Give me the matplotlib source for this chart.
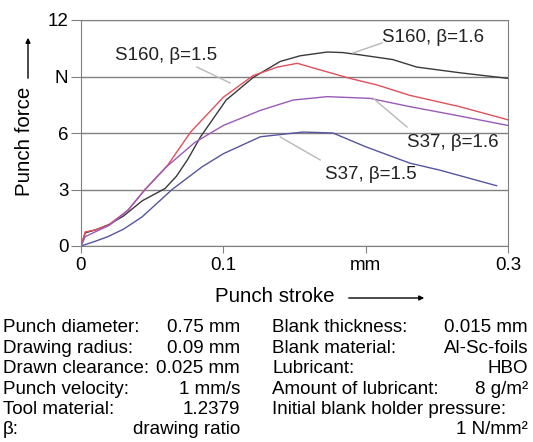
import matplotlib
matplotlib.use('Agg')
import matplotlib.pyplot as plt

plt.rcParams['font.family'] = ['Liberation Sans', 'DejaVu Sans']

# punch force curves (stroke in mm, force in N)
x_s160_16 = [0, 0.003, 0.01, 0.02, 0.03, 0.043, 0.059, 0.067, 0.075, 0.084, 0.102, 0.121, 0.14, 0.154, 0.173,
             0.184, 0.196, 0.219, 0.236, 0.266, 0.3]
y_s160_16 = [0, 0.7, 0.85, 1.15, 1.6, 2.4, 3.05, 3.7, 4.6, 5.8, 7.75, 8.95, 9.8, 10.1, 10.3,
             10.27, 10.15, 9.9, 9.5, 9.2, 8.9]

x_s160_15 = [0, 0.003, 0.01, 0.019, 0.033, 0.045, 0.061, 0.077, 0.1, 0.121, 0.138, 0.152, 0.168,
             0.189, 0.208, 0.231, 0.266, 0.3]
y_s160_15 = [0, 0.75, 0.85, 1.1, 1.9, 3.0, 4.3, 6.05, 7.9, 9.05, 9.5, 9.7, 9.35,
             8.9, 8.55, 8.0, 7.4, 6.7]

x_s37_16 = [0, 0.003, 0.01, 0.02, 0.033, 0.045, 0.06, 0.08, 0.1, 0.126, 0.149, 0.173, 0.203,
            0.231, 0.262, 0.3]
y_s37_16 = [0, 0.5, 0.75, 1.1, 1.9, 3.0, 4.2, 5.5, 6.4, 7.2, 7.75, 7.93, 7.84,
            7.4, 6.96, 6.4]

x_s37_15 = [0, 0.01, 0.019, 0.03, 0.043, 0.064, 0.085, 0.1, 0.126, 0.156, 0.177, 0.2, 0.231,
            0.252, 0.292]
y_s37_15 = [0, 0.25, 0.5, 0.9, 1.55, 3.0, 4.2, 4.9, 5.8, 6.05, 6.0, 5.27, 4.4,
            4.03, 3.2]

xticks = [0, 0.1, 0.2, 0.3]
xtick_labels = ['0', '0.1', 'mm', '0.3']
yticks = [0, 3, 6, 9, 12]
ytick_labels = ['0', '3', '6', 'N', '12']

left_rows = [('Punch diameter:', '0.75 mm'), ('Drawing radius:', '0.09 mm'),
             ('Drawn clearance:', '0.025 mm'), ('Punch velocity:', '1 mm/s'),
             ('Tool material:', '1.2379'), ('\u03b2:', 'drawing ratio')]
right_rows = [('Blank thickness:', '0.015 mm'), ('Blank material:', 'Al-Sc-foils'),
              ('Lubricant:', 'HBO'), ('Amount of lubricant:', '8 g/m\u00b2'),
              ('Initial blank holder pressure:', ''), ('', '1 N/mm\u00b2')]

W, H = 533, 442
FS = 13.5
fig = plt.figure(figsize=(W / 100, H / 100), dpi=100)
ax = fig.add_axes([81 / W, 1 - 246 / H, (508 - 81) / W, (246 - 20) / H])

ax.plot(x_s160_16, y_s160_16, color='#3a3a3a', lw=1)
ax.plot(x_s160_15, y_s160_15, color='#e0505a', lw=1)
ax.plot(x_s37_16, y_s37_16, color='#9a5ab8', lw=1)
ax.plot(x_s37_15, y_s37_15, color='#5555a0', lw=1)

ax.set_xlim(0, 0.3)
ax.set_ylim(0, 12)
ax.set_xticks(xticks)
ax.set_xticklabels(xtick_labels, fontsize=FS)
ax.set_yticks(yticks)
ax.set_yticklabels(ytick_labels, fontsize=FS)
ax.tick_params(axis='y', length=7, color='#808080', pad=2)
ax.tick_params(axis='x', length=5, color='#808080', pad=3)
ax.grid(axis='y', color='#808080', lw=1)
for s in ax.spines.values():
    s.set_color('#808080')

# curve labels with leader lines
lead = '#b8b8b8'
labels = [('S160, \u03b2=1.5', 0.0597, 10.14, (0.0815, 9.5), (0.1047, 8.66)),
          ('S160, \u03b2=1.6', 0.2474, 11.05, (0.2115, 10.78), (0.1911, 10.25)),
          ('S37, \u03b2=1.6', 0.2614, 5.47, (0.229, 6.32), (0.205, 7.86)),
          ('S37, \u03b2=1.5', 0.2038, 3.77, (0.168, 4.57), (0.14, 5.79))]
for txt, tx, ty, p1, p2 in labels:
    ax.text(tx, ty, txt, fontsize=FS, ha='center', va='center', color='#222222')
    ax.plot([p1[0], p2[0]], [p1[1], p2[1]], color=lead, lw=1)

# axis titles with arrows
fig.text(25 / W, 1 - 141 / H, 'Punch force', rotation=90, fontsize=14.8,
         ha='center', va='center')
fig.add_artist(matplotlib.patches.FancyArrowPatch(
    (28 / W, 1 - 81 / H), (28 / W, 1 - 35 / H), transform=fig.transFigure,
    arrowstyle='-|>', mutation_scale=7, color='black', lw=1))
fig.text(275 / W, 1 - 297 / H, 'Punch stroke', fontsize=14.8, ha='center', va='center')
fig.add_artist(matplotlib.patches.FancyArrowPatch(
    (346 / W, 1 - 298 / H), (427 / W, 1 - 298 / H), transform=fig.transFigure,
    arrowstyle='-|>', mutation_scale=7, color='black', lw=1))

# parameter table
row_y = [328 + 20.4 * i for i in range(6)]
for (lab, val), yy in zip(left_rows, row_y):
    fig.text(3 / W, 1 - yy / H, lab, fontsize=FS, ha='left', va='center')
    fig.text(240 / W, 1 - yy / H, val, fontsize=FS, ha='right', va='center')
for (lab, val), yy in zip(right_rows, row_y):
    fig.text(272 / W, 1 - yy / H, lab, fontsize=FS, ha='left', va='center')
    fig.text(528 / W, 1 - yy / H, val, fontsize=FS, ha='right', va='center')

fig.savefig('out.png', dpi=100)
